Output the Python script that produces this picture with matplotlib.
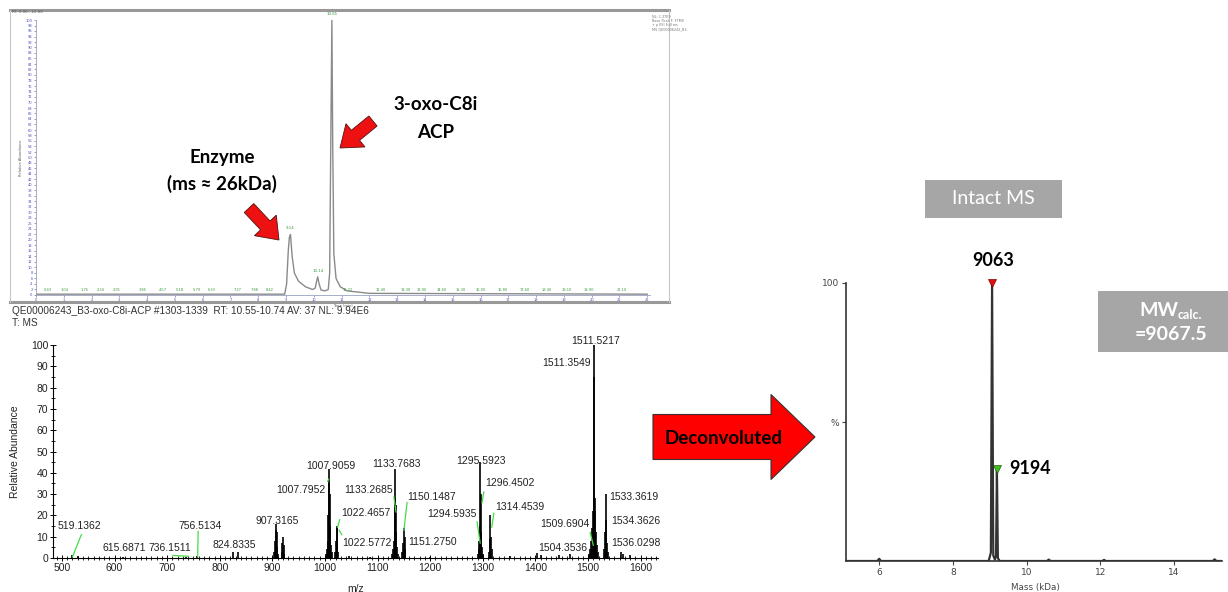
import matplotlib.pyplot as plt
from matplotlib.patches import FancyArrow, Rectangle
import numpy as np

# ---- LC trace (top) : retention time (min) vs relative abundance (%)
lc_time = [0.0, 8.95, 9.02, 9.08, 9.12, 9.16, 9.22, 9.30, 9.45, 9.70, 9.95, 10.05,
           10.10, 10.14, 10.19, 10.26, 10.40, 10.52, 10.57, 10.61, 10.65, 10.68,
           10.72, 10.80, 10.95, 11.20, 12.0, 22.0]
lc_abund = [0.3, 0.3, 4, 16, 21, 22, 14, 8, 5, 3, 2, 2.5,
            5, 6.6, 4, 1.8, 1.5, 2, 8, 55, 100, 55,
            15, 6, 3, 1.5, 0.6, 0.3]
lc_peak_time = [9.14, 10.14, 10.65]
lc_peak_abund = [22, 6.6, 100]
lc_noise_time = [0.43, 1.04, 1.76, 2.34, 2.91, 3.85, 4.57, 5.18, 5.79, 6.33, 7.27,
                 7.88, 8.42, 11.22, 12.4, 13.3, 13.9, 14.6, 15.3, 16.0, 16.8, 17.6,
                 18.4, 19.1, 19.9, 21.1]

# ---- MS spectrum (bottom left) : m/z vs relative abundance (%)
mz = [519.14, 530.0, 615.69, 736.15, 756.51, 824.83, 835.0,
      904.0, 905.5, 906.5, 907.32, 908.2, 909.3, 911.0,
      917.5, 918.8, 920.1, 921.2, 922.5,
      1002.0, 1004.0, 1005.5, 1006.5, 1007.80, 1007.91, 1008.8, 1009.8, 1011.0, 1013.0,
      1019.5, 1021.0, 1022.47, 1022.58, 1023.5, 1025.0, 1045.0, 1085.0,
      1127.0, 1129.0, 1131.0, 1132.3, 1133.27, 1133.77, 1134.7, 1135.8, 1137.5, 1139.0,
      1147.0, 1148.8, 1150.15, 1151.28, 1152.5, 1200.0,
      1290.0, 1292.0, 1293.5, 1294.59, 1295.59, 1296.45, 1297.5, 1299.0, 1301.0,
      1311.0, 1312.8, 1314.45, 1315.6, 1317.0, 1352.0, 1403.0, 1410.0, 1445.0, 1466.0,
      1502.0, 1504.35, 1506.0, 1508.0, 1509.69, 1510.5, 1511.35, 1511.52, 1512.4,
      1513.5, 1515.0, 1517.0, 1519.0,
      1530.5, 1532.0, 1533.36, 1534.36, 1536.03, 1537.5, 1563.0, 1566.0, 1580.0]
mz_abund = [1.5, 0.8, 0.6, 0.6, 0.8, 3.0, 3.0,
            3, 8, 13, 16, 12, 5, 2,
            3, 7, 10, 6, 2,
            2, 4, 8, 20, 35, 42, 30, 15, 6, 3,
            3, 8, 15, 14, 7, 3, 0.8, 0.7,
            2, 4, 8, 15, 28, 42, 25, 12, 5, 2,
            3, 7, 14, 10, 4, 0.6,
            2, 4, 8, 15, 45, 30, 12, 5, 2,
            3, 9, 20, 10, 4, 0.8, 2.3, 1.5, 1.2, 2.0,
            2, 4, 8, 14, 22, 28, 85, 100, 28,
            22, 12, 6, 3,
            4, 12, 30, 18, 7, 3, 3, 2, 1.5]
mz_tick_text = ["519.1362", "615.6871", "736.1511", "756.5134", "824.8335", "907.3165",
                "1007.9059", "1007.7952", "1022.4657", "1022.5772", "1133.7683",
                "1133.2685", "1150.1487", "1151.2750", "1295.5923", "1296.4502",
                "1294.5935", "1314.4539", "1511.5217", "1511.3549", "1509.6904",
                "1504.3536", "1533.3619", "1534.3626", "1536.0298"]

# ---- deconvoluted spectrum (right) : mass (kDa) vs %
mass = [5.1, 5.95, 6.0, 6.05, 7.6, 8.97, 9.03, 9.063, 9.095, 9.14, 9.17, 9.194,
        9.22, 9.27, 10.55, 10.6, 10.65, 12.05, 12.1, 12.15, 15.05, 15.1, 15.15, 15.3]
mass_abund = [0, 0, 0.8, 0, 0, 0, 3, 100, 2, 0.5, 2, 33,
              1, 0, 0, 0.5, 0, 0, 0.4, 0, 0, 0.6, 0, 0]
top_masses = [9.063, 9.194]
top_abund = [100, 33]
top_labels = ["9063", "9194"]

W, H = 1228, 592
fig = plt.figure(figsize=(W / 100, H / 100), dpi=100)


def box(l, t, r, b):
    return [l / W, 1 - b / H, (r - l) / W, (b - t) / H]


sans = ["Liberation Sans", "DejaVu Sans"]
cal = ["Lato", "DejaVu Sans"]

# ================= LC chromatogram =================
ax1 = fig.add_axes(box(36, 20, 650, 295))
ax1.plot(lc_time, lc_abund, color="#8a8a8a", lw=1.0)
ax1.set_xlim(0, 22.1)
ax1.set_ylim(0, 100)
for s in ["top", "right"]:
    ax1.spines[s].set_visible(False)
for s in ["left", "bottom"]:
    ax1.spines[s].set_color("#9aa0c0")
    ax1.spines[s].set_linewidth(0.6)
ax1.set_xticks(np.arange(0, 23, 1))
ax1.set_yticks(np.arange(0, 101, 2))
ax1.tick_params(labelsize=2.6, colors="#5050b0", length=1.5, width=0.4, pad=1)
ax1.set_ylabel("Relative Abundance", fontsize=2.6, color="#555555", labelpad=2)
ax1.set_xlabel("Time (min)", fontsize=2.6, color="#555555", labelpad=1)
for t, a in zip(lc_peak_time, lc_peak_abund):
    ax1.text(t, a + 1.5, f"{t:.2f}", fontsize=2.8, color="#3c9a3c", ha="center",
             va="bottom", clip_on=False)
for t in lc_noise_time:
    ax1.text(t, 1.0, f"{t:.2f}", fontsize=2.6, color="#3c9a3c", ha="center", va="bottom")

# ================= MS spectrum =================
ax2 = fig.add_axes(box(53, 345, 658, 558))
ax2.vlines(mz, 0, mz_abund, color="black", lw=1.2)
ax2.set_xlim(483, 1633)
ax2.set_ylim(0, 100)
for s in ["top", "right"]:
    ax2.spines[s].set_visible(False)
ax2.spines["left"].set_linewidth(0.8)
ax2.spines["bottom"].set_linewidth(0.8)
ax2.set_xticks(np.arange(500, 1601, 100))
ax2.set_xticks(np.arange(490, 1631, 10), minor=True)
ax2.set_yticks(np.arange(0, 101, 10))
ax2.set_yticks(np.arange(0, 101, 5), minor=True)
ax2.tick_params(which="major", direction="inout", length=5, width=0.7, labelsize=7.5,
                pad=1)
ax2.tick_params(which="minor", direction="inout", length=3, width=0.6)
for lab in ax2.get_xticklabels() + ax2.get_yticklabels():
    lab.set_fontfamily(sans)
    lab.set_color("#222222")
ax2.set_ylabel("Relative Abundance", fontsize=7.5, family=sans, color="#222222")
ax2.yaxis.set_label_coords(-0.055, 0.5)
ax2.set_xlabel("m/z", fontsize=7.5, family=sans, color="#222222")
ax2.xaxis.set_label_coords(0.5, -0.12)

label_pos = [(534, 15), (618, 4.7), (705, 4.7), (762, 15), (827, 6), (909, 17.4),
             (1011, 43), (954, 32), (1078, 21), (1080, 7), (1135, 44), (1082, 32),
             (1203, 28.6), (1205, 7.5), (1296, 45.5), (1352, 35), (1241, 20.6),
             (1371, 24), (1515, 102), (1460, 91.5), (1456, 16), (1452, 4.7),
             (1588, 28.6), (1591, 17.4), (1591, 7)]
for s, (x, y) in zip(mz_tick_text, label_pos):
    ax2.text(x, y, s, fontsize=7.5, family=sans, color="#222222", ha="center",
             va="center", clip_on=False)
leaders = [((537, 11), (520, 0.5)), ((711, 1.2), (740, 0.8)), ((759, 12.5), (758, 0.5)),
           ((1028, 18), (1024, 14.5)), ((1027, 13), (1032, 11)),
           ((1131, 28.6), (1135, 21.6)), ((1156, 26), (1150, 13)),
           ((1302, 31), (1298.5, 26)), ((1289, 17), (1295, 7)),
           ((1321, 21), (1317, 14.5)), ((1504, 12), (1510, 6)),
           ((1005, 36), (1007, 37))]
for (x1, y1), (x2, y2) in leaders:
    ax2.plot([x1, x2], [y1, y2], color="#44dd44", lw=0.9)

# ================= deconvoluted =================
ax3 = fig.add_axes(box(846, 283, 1222, 561))
ax3.plot(mass, mass_abund, color="#333333", lw=1.6)
ax3.set_xlim(5.1, 15.3)
ax3.set_ylim(0, 100)
for s in ["top", "right"]:
    ax3.spines[s].set_visible(False)
ax3.spines["left"].set_color("#333333")
ax3.spines["bottom"].set_color("#333333")
ax3.spines["left"].set_linewidth(1.2)
ax3.spines["bottom"].set_linewidth(1.2)
ax3.set_xticks([6, 8, 10, 12, 14])
ax3.set_yticks([50, 100])
ax3.set_yticklabels(["%", "100"])
ax3.tick_params(labelsize=6.5, colors="#444444", length=3, width=0.8, pad=2)
ax3.set_xlabel("Mass (kDa)", fontsize=6.3, color="#444444")
ax3.xaxis.set_label_coords(0.503, -0.078)
ax3.plot(top_masses[0], top_abund[0], marker="v", color="#e01010", ms=6,
         mec="#800000", mew=0.5, clip_on=False)
ax3.plot(top_masses[1], top_abund[1], marker="v", color="#40c020", ms=6,
         mec="#206010", mew=0.5, clip_on=False)

# ================= overlay in pixel coords =================
ov = fig.add_axes([0, 0, 1, 1], zorder=10)
ov.set_xlim(0, W)
ov.set_ylim(H, 0)
ov.axis("off")
ov.patch.set_alpha(0)

# frame of LC panel
ov.plot([10, 669], [10, 10], color="#999999", lw=2.2)
ov.plot([10, 669], [302, 302], color="#999999", lw=2.2)
ov.plot([10, 10], [10, 302], color="#c8c8c8", lw=0.8)
ov.plot([669, 669], [10, 302], color="#c8c8c8", lw=0.8)
ov.text(12, 12, "RT: 0.00 - 22.00", fontsize=2.8, color="#555555", va="center")
for i, s in enumerate(["NL: 1.37E9", "Base Peak F: FTMS", "+ p ESI Full ms",
                       "MS QE00006243_B3-"]):
    ov.text(652, 17 + i * 4.2, s, fontsize=2.4, color="#777777", va="center")

ov.text(12, 311, "QE00006243_B3-oxo-C8i-ACP #1303-1339  RT: 10.55-10.74 AV: 37 NL: 9.94E6",
        fontsize=7.2, family=sans, color="#333333", va="center")
ov.text(12, 323, "T: MS", fontsize=7.2, family=sans, color="#333333", va="center")

# annotations on LC panel
ov.text(222, 157, "Enzyme", fontsize=13.5, family=cal, weight="bold", ha="center",
        va="center")
ov.text(222, 184, "(ms \u2248 26kDa)", fontsize=13.5, family=cal, weight="bold",
        ha="center", va="center")
ov.text(436, 105, "3-oxo-C8i", fontsize=13.5, family=cal, weight="bold", ha="center",
        va="center")
ov.text(436, 133, "ACP", fontsize=13.5, family=cal, weight="bold", ha="center",
        va="center")
ov.add_patch(FancyArrow(249, 208, 30, 32, width=13, head_width=30, head_length=20,
                        length_includes_head=True, fc="#ee1111", ec="#551111", lw=0.6))
ov.add_patch(FancyArrow(373, 121, -33, 27, width=13, head_width=30, head_length=20,
                        length_includes_head=True, fc="#ee1111", ec="#551111", lw=0.6))

# big arrow
ov.add_patch(FancyArrow(653, 437, 162, 0, width=45, head_width=85, head_length=44,
                        length_includes_head=True, fc="#ff0000", ec="#333333", lw=0.8))
ov.text(724, 438, "Deconvoluted", fontsize=13.5, family=cal, weight="bold",
        ha="center", va="center")

# grey boxes
ov.add_patch(Rectangle((925, 180), 137, 38, fc="#a6a6a6", ec="none"))
ov.text(993, 199, "Intact MS", fontsize=14, family=cal, color="white", ha="center",
        va="center")
ov.add_patch(Rectangle((1098, 291), 130, 61, fc="#a6a6a6", ec="none"))
ov.text(1178, 310, "MW", fontsize=14, family=cal, weight="bold", color="white",
        ha="right", va="center")
ov.text(1178, 315, "calc.", fontsize=9, family=cal, weight="bold", color="white",
        ha="left", va="center")
ov.text(1171, 335, "=9067.5", fontsize=14, family=cal, weight="bold", color="white",
        ha="center", va="center")

# peak mass labels
ov.text(993, 260, top_labels[0], fontsize=13, family=cal, weight="bold", ha="center",
        va="center")
ov.text(1009, 469, top_labels[1], fontsize=13, family=cal, weight="bold", ha="left",
        va="center")

fig.savefig("out.png", dpi=100)
